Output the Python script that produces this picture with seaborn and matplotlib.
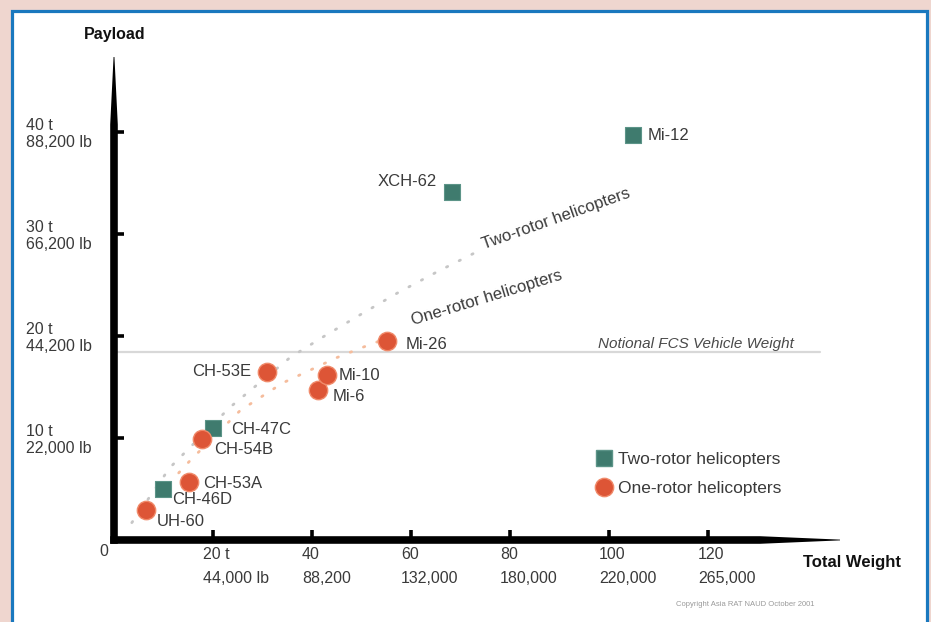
import numpy as np
import pandas as pd
import matplotlib
matplotlib.use("Agg")
import matplotlib.pyplot as plt
from matplotlib.patches import Rectangle
from matplotlib.transforms import ScaledTranslation
from matplotlib.lines import Line2D
import seaborn as sns

# ---------------- data ----------------
names = ["UH-60", "CH-46D", "CH-53A", "CH-54B", "CH-47C", "CH-53E",
         "Mi-6", "Mi-10", "Mi-26", "XCH-62", "Mi-12"]
rotor_type = ["One", "Two", "One", "One", "Two", "One",
              "One", "One", "One", "Two", "Two"]
total_weight = [6.5, 9.9, 15.2, 17.8, 20.0, 30.9, 41.2, 43.0, 55.2, 68.3, 104.8]
payload = [2.9, 5.0, 5.7, 9.9, 11.0, 16.5, 14.7, 16.2, 19.5, 34.1, 39.7]

two_trend_x = [3.6, 11.3, 23.4, 35.6, 42.2, 49.1, 57.2, 65.3, 73.9]
two_trend_y = [1.7, 7.1, 13.0, 17.9, 19.9, 21.9, 24.2, 26.3, 28.4]
one_trend_x = [5.3, 15.4, 25.5, 34.1, 45.1, 50.3, 55.8]
one_trend_y = [2.5, 7.8, 12.7, 15.4, 17.9, 18.9, 19.9]

fcs_weight = 18.4

x_ticks = [20, 40, 60, 80, 100, 120]
x_tick_labels = ["20 t\n44,000 lb", "40\n88,200", "60\n132,000", "80\n180,000",
                 "100\n220,000", "120\n265,000"]
y_ticks = [10, 20, 30, 40]
y_tick_labels = ["10 t\n22,000 lb", "20 t\n44,200 lb", "30 t\n66,200 lb", "40 t\n88,200 lb"]

df = pd.DataFrame({"name": names, "type": rotor_type,
                   "weight": total_weight, "payload": payload})

# ---------------- style ----------------
sns.set_theme(style="white")
plt.rcParams["font.family"] = ["Liberation Sans", "DejaVu Sans"]

W, H, DPI = 931, 622, 100
fig = plt.figure(figsize=(W / DPI, H / DPI), dpi=DPI)
fig.patch.set_facecolor("#efd6cf")
frame = Rectangle((11.5 / W, -0.05), (926.5 - 11.5) / W, 1.05 - 10.5 / H,
                  transform=fig.transFigure, facecolor="white",
                  edgecolor="#1a78be", linewidth=2.3, zorder=-10)
fig.patches.append(frame)

ax_l, ax_b = 114 / W, (H - 540) / H
ax_w, ax_h = 726 / W, 483 / H
ax = fig.add_axes([ax_l, ax_b, ax_w, ax_h])
ax.set_zorder(1)
ax.set_facecolor("none")
xmax, ymax = 726 / 4.95, 483 / 10.2
ax.set_xlim(0, xmax)
ax.set_ylim(0, ymax)

TXT = "#3a3a3a"
TEAL = "#3f7b6e"
RED = "#dd5536"

# notional FCS line
ax.plot([0, 142.6], [fcs_weight, fcs_weight], color="#d8d8d8", lw=1.6, zorder=1)
ax.text(97.8, fcs_weight + 0.85, "Notional FCS Vehicle Weight", style="italic",
        fontsize=11, color="#4a4a4a", ha="left", va="center")

# trend curves
sns.lineplot(x=two_trend_x, y=two_trend_y, ax=ax, color="#c6c6c6", lw=2.0,
             linestyle=(0, (0.5, 4.6)), dash_capstyle="round", sort=False,
             estimator=None, zorder=2)
sns.lineplot(x=one_trend_x, y=one_trend_y, ax=ax, color="#f5bc9c", lw=2.0,
             linestyle=(0, (0.5, 4.6)), dash_capstyle="round", sort=False,
             estimator=None, zorder=2)
ax.text(89.3, 31.5, "Two-rotor helicopters", rotation=19.5, rotation_mode="anchor",
        ha="center", va="center", fontsize=12, color=TXT)
ax.text(75.4, 23.7, "One-rotor helicopters", rotation=17, rotation_mode="anchor",
        ha="center", va="center", fontsize=12, color=TXT)

# points
two = df[df["type"] == "Two"]
one = df[df["type"] == "One"]
sns.scatterplot(data=two, x="weight", y="payload", marker="s", s=135, color=TEAL,
                edgecolor="#5c9488", linewidth=0.8, ax=ax, zorder=4, legend=False)
sns.scatterplot(data=one, x="weight", y="payload", marker="o", s=175, color=RED,
                edgecolor="#f08a6a", linewidth=1.0, ax=ax, zorder=4, legend=False)

# point labels (offsets in pixels)
label_offsets = {
    "UH-60": (11, -11, "left"), "CH-46D": (9, -11, "left"),
    "CH-53A": (14, -2, "left"), "CH-54B": (12, -10, "left"),
    "CH-47C": (18, -2, "left"), "CH-53E": (-16, 0, "right"),
    "Mi-6": (15, -6, "left"), "Mi-10": (12, -1, "left"),
    "Mi-26": (18, -3, "left"), "XCH-62": (-15, 11, "right"),
    "Mi-12": (15, 0, "left"),
}
for _, r in df.iterrows():
    dx, dy, ha = label_offsets[r["name"]]
    ax.annotate(r["name"], (r["weight"], r["payload"]), xytext=(dx, dy),
                textcoords="offset pixels", ha=ha, va="center", fontsize=12,
                color=TXT, zorder=5)

# ticks
ax.set_xticks(x_ticks)
ax.set_xticklabels(x_tick_labels, fontsize=11.5, color=TXT, ha="left", linespacing=1.75)
ax.set_yticks(y_ticks)
ax.set_yticklabels(y_tick_labels, fontsize=11.5, color=TXT, ha="left", linespacing=1.1)
ax.tick_params(axis="both", which="major", direction="in", length=7, width=2.6,
               color="black", bottom=True, left=True, top=False, right=False)
ax.tick_params(axis="x", pad=5)
ax.tick_params(axis="y", pad=0)
for lab in ax.get_xticklabels():
    lab.set_transform(lab.get_transform() + ScaledTranslation(-10 / DPI, 0, fig.dpi_scale_trans))
for lab in ax.get_yticklabels():
    lab.set_transform(lab.get_transform() + ScaledTranslation(-88 / DPI, 0, fig.dpi_scale_trans))
ax.set_xlabel("")
ax.set_ylabel("")

for sp in ax.spines.values():
    sp.set_visible(False)

# tapered axis lines (axes-fraction coordinates)
hx = 3.8 / 726
hy = 3.8 / 483
ax.fill([-hx, 0.89, 1.0, 1.0, 0.89, -hx], [-hy, -hy, -0.0008, 0.0008, hy, hy],
        color="black", transform=ax.transAxes, clip_on=False, zorder=6, lw=0)
ax.fill([-hx, -hx, -0.0006, 0.0006, hx, hx], [-hy, 0.86, 1.0, 1.0, 0.86, -hy],
        color="black", transform=ax.transAxes, clip_on=False, zorder=6, lw=0)

ax.annotate("0", (0, 0), xytext=(-10, -12), textcoords="offset pixels",
            ha="center", va="center", fontsize=11.5, color=TXT)

# axis titles
fig.text(115 / W, 1 - 35 / H, "Payload", ha="center", va="center",
         fontsize=11.5, fontweight="bold", color="#111111")
fig.text(803 / W, 1 - 562 / H, "Total Weight", ha="left", va="center",
         fontsize=12, fontweight="bold", color="#111111")
fig.text(745 / W, 1 - 604 / H, "Copyright Asia RAT NAUD October 2001", ha="center",
         va="center", fontsize=5.5, color="#9a9a9a")

# legend
handles = [Line2D([], [], marker="s", linestyle="none", markersize=11.6,
                  markerfacecolor=TEAL, markeredgecolor="#5c9488"),
           Line2D([], [], marker="o", linestyle="none", markersize=13.2,
                  markerfacecolor=RED, markeredgecolor="#f08a6a")]
leg = ax.legend(handles, ["Two-rotor helicopters", "One-rotor helicopters"],
                loc="upper left", bbox_to_anchor=(594 / W, 1 - 452 / H),
                bbox_transform=fig.transFigure, frameon=False, fontsize=12.5,
                borderpad=0, borderaxespad=0, handletextpad=0.2, handlelength=1.2,
                labelspacing=0.78)
for t in leg.get_texts():
    t.set_color(TXT)

fig.savefig("out.png", dpi=DPI, facecolor=fig.get_facecolor())
